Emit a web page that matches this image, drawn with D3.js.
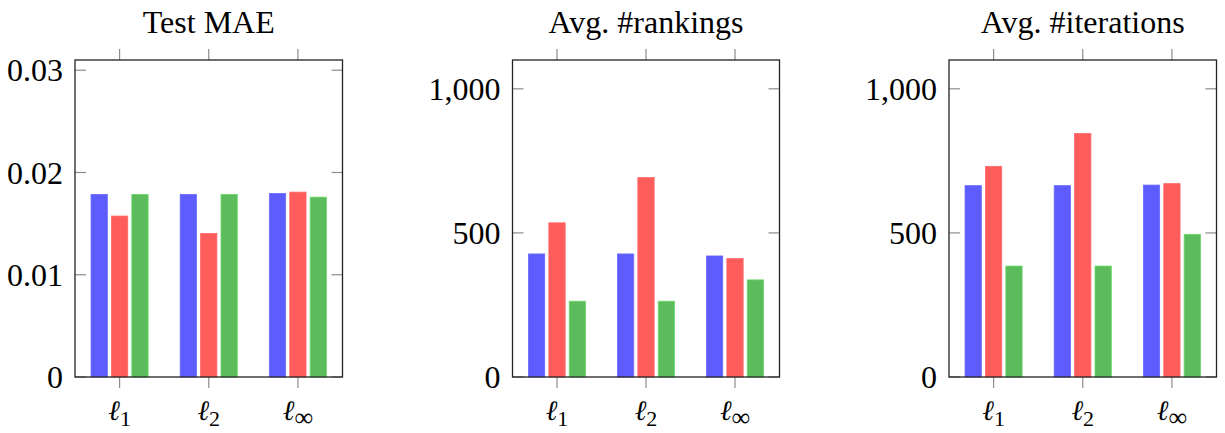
<!DOCTYPE html>
<html><head><meta charset="utf-8">
<script src="https://cdn.jsdelivr.net/npm/d3@7"></script>
<style>body{margin:0;background:#fff}svg{display:block}text{font-family:"Liberation Serif","DejaVu Serif",serif;fill:#000}</style>
</head><body>
<svg id="c" width="1225" height="433"></svg>
<script>
const categories = ["1", "2", "∞"];
const seriesNames = ["A", "B", "C"];
const colors = ["#5c5cff", "#ff5c5c", "#5cbc5c"];
const titles = ["Test MAE", "Avg. #rankings", "Avg. #iterations"];
const maeValues = [[0.01786, 0.01786, 0.01795], [0.01574, 0.01404, 0.01808], [0.01786, 0.01786, 0.01759]];
const rankingsValues = [[427, 427, 420], [535, 692, 411], [263, 263, 337]];
const iterationsValues = [[664, 664, 666], [731, 845, 671], [385, 385, 495]];
const maeTicks = [0, 0.01, 0.02, 0.03];
const countTicks = [0, 500, 1000];
const maeMax = 0.031, countMax = 1100;

const svg = d3.select("#c");
const plotTop = 60, plotBottom = 377;
const panels = [
  {left: 75, right: 342.5, values: maeValues, max: maeMax, ticks: maeTicks, fmt: d => d === 0 ? "0" : d3.format(".2f")(d)},
  {left: 512.5, right: 779.5, values: rankingsValues, max: countMax, ticks: countTicks, fmt: d => d3.format(",")(d)},
  {left: 949, right: 1216.5, values: iterationsValues, max: countMax, ticks: countTicks, fmt: d => d3.format(",")(d)}
];

panels.forEach((p, pi) => {
  const g = svg.append("g");
  const x = d3.scaleLinear().domain([0.5, 3.5]).range([p.left, p.right]);
  const y = d3.scaleLinear().domain([0, p.max]).range([plotBottom, plotTop]);
  const barW = 16.3, off = 20.4;
  p.values.forEach((vals, si) => {
    g.selectAll(null).data(vals).enter().append("rect")
      .attr("x", (d, i) => x(i + 1) + (si - 1) * off - barW / 2)
      .attr("y", d => y(d))
      .attr("width", barW)
      .attr("height", d => y(0) - y(d))
      .attr("fill", colors[si])
      .attr("stroke", d3.color(colors[si]).brighter(0.4))
      .attr("stroke-width", 0.8);
  });
  const tickColor = "#8c8c8c";
  p.ticks.forEach(t => {
    g.append("line").attr("x1", p.left).attr("x2", p.left + 11).attr("y1", y(t)).attr("y2", y(t)).attr("stroke", tickColor).attr("stroke-width", 1.2);
    g.append("line").attr("x1", p.right - 11).attr("x2", p.right).attr("y1", y(t)).attr("y2", y(t)).attr("stroke", tickColor).attr("stroke-width", 1.2);
    g.append("text").attr("x", p.left - 12).attr("y", y(t)).attr("dy", "0.35em")
      .attr("text-anchor", "end").attr("font-size", 32).text(p.fmt(t));
  });
  categories.forEach((c, i) => {
    const cx = x(i + 1);
    g.append("line").attr("x1", cx).attr("x2", cx).attr("y1", plotTop - 11).attr("y2", plotTop).attr("stroke", tickColor).attr("stroke-width", 1.2);
    g.append("line").attr("x1", cx).attr("x2", cx).attr("y1", plotBottom).attr("y2", plotBottom + 11).attr("stroke", tickColor).attr("stroke-width", 1.2);
    const t = g.append("text").attr("x", cx).attr("y", 420).attr("text-anchor", "middle");
    t.append("tspan").attr("font-size", 28).attr("font-style", "italic").attr("font-family", "DejaVu Serif").text("ℓ");
    t.append("tspan").attr("font-size", c === "∞" ? 26 : 22).attr("dy", 6).text(c);
  });
  g.append("rect").attr("x", p.left).attr("y", plotTop).attr("width", p.right - p.left).attr("height", plotBottom - plotTop)
    .attr("fill", "none").attr("stroke", "#222").attr("stroke-width", 1.3);
  g.append("text").attr("x", (p.left + p.right) / 2).attr("y", 33).attr("text-anchor", "middle")
    .attr("font-size", 32).text(titles[pi]);
});
</script>
</body></html>
